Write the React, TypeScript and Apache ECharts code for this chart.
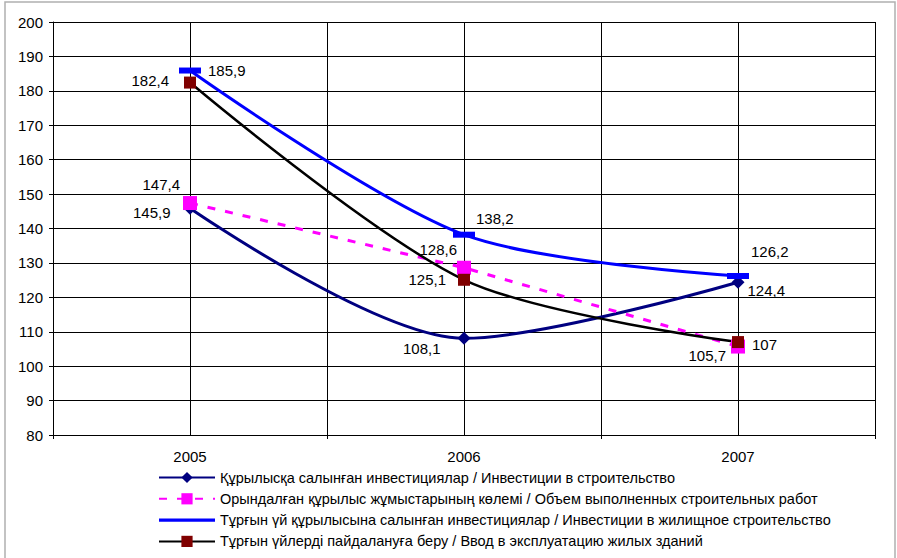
import React, { useEffect, useRef } from "react";
import * as echarts from "echarts";

const years = ["2005", "2006", "2007"];
const seriesNames = [
  "Құрылысқа салынған инвестициялар / Инвестиции в строительство",
  "Орындалған құрылыс жұмыстарының көлемі / Объем выполненных строительных работ",
  "Тұрғын үй құрылысына салынған инвестициялар / Инвестиции в жилищное строительство",
  "Тұрғын үйлерді пайдалануға беру / Ввод в эксплуатацию жилых зданий",
];
const investConstruction = [145.9, 108.1, 124.4];
const workVolume = [147.4, 128.6, 105.7];
const investHousing = [185.9, 138.2, 126.2];
const commissioning = [182.4, 125.1, 107];

const FONT = "'Liberation Sans', Arial, sans-serif";

type LP = { position: string; offset: number[] };
const withLabels = (vals: number[], lps: LP[]) =>
  vals.map((v, i) => ({
    value: v,
    label: {
      show: true,
      position: lps[i].position,
      offset: lps[i].offset,
      formatter: (p: any) => String(p.value).replace(".", ","),
      color: "#000",
      fontSize: 15,
      fontFamily: FONT,
    },
  }));

export default function App() {
  const ref = useRef<HTMLDivElement>(null);
  useEffect(() => {
    if (!ref.current) return;
    const chart = echarts.init(ref.current, undefined, { renderer: "svg" });
    chart.setOption({
      animation: false,
      backgroundColor: "#fff",
      textStyle: { fontFamily: FONT },
      graphic: [
        {
          type: "rect",
          shape: { x: 5, y: 2, width: 890, height: 570 },
          style: { fill: "none", stroke: "#b0b0b0", lineWidth: 1.5 },
          silent: true,
        },
      ],
      grid: { left: 53, right: 22, top: 22, bottom: 123, containLabel: false },
      legend: {
        orient: "vertical",
        left: 153,
        top: 465,
        itemWidth: 56,
        itemHeight: 14,
        itemGap: 6.3,
        textStyle: { fontSize: 14.5, color: "#000", fontFamily: FONT },
        data: [
          { name: seriesNames[0] },
          { name: seriesNames[1] },
          { name: seriesNames[2], icon: "path://M0,0 L56,0 L56,3.2 L0,3.2 Z" },
          { name: seriesNames[3] },
        ],
      },
      xAxis: [
        {
          type: "category",
          data: years,
          boundaryGap: true,
          axisLine: { lineStyle: { color: "#000", width: 1 } },
          axisTick: { show: true, length: 4, lineStyle: { color: "#000" } },
          axisLabel: { color: "#000", fontSize: 15, margin: 14, fontFamily: FONT },
          splitLine: { show: false },
        },
        {
          type: "value",
          min: 0,
          max: 6,
          interval: 1,
          position: "top",
          axisLine: { show: false },
          axisTick: { show: false },
          axisLabel: { show: false },
          splitLine: { show: true, lineStyle: { color: "#000", width: 1 } },
        },
      ],
      yAxis: {
        type: "value",
        min: 80,
        max: 200,
        interval: 10,
        axisLine: { show: true, lineStyle: { color: "#000", width: 1 } },
        axisTick: { show: true, length: 4, lineStyle: { color: "#000" } },
        axisLabel: { color: "#000", fontSize: 15, margin: 10, fontFamily: FONT },
        splitLine: { show: true, lineStyle: { color: "#000", width: 1 } },
      },
      series: [
        {
          name: seriesNames[0],
          type: "line",
          xAxisIndex: 0,
          smooth: 0.3,
          symbol: "diamond",
          symbolSize: 13,
          lineStyle: { color: "#000080", width: 3 },
          itemStyle: { color: "#000080" },
          data: withLabels(investConstruction, [
            { position: "left", offset: [-8, 4] },
            { position: "left", offset: [-12, 10] },
            { position: "right", offset: [-2, 8] },
          ]),
        },
        {
          name: seriesNames[1],
          type: "line",
          xAxisIndex: 0,
          smooth: false,
          symbol: "rect",
          symbolSize: 14,
          lineStyle: { color: "#ff00ff", width: 3, type: [8, 10] },
          itemStyle: { color: "#ff00ff" },
          data: withLabels(workVolume, [
            { position: "left", offset: [2, -19] },
            { position: "left", offset: [5, -18] },
            { position: "left", offset: [0, 9] },
          ]),
        },
        {
          name: seriesNames[2],
          type: "line",
          xAxisIndex: 0,
          smooth: 0.3,
          symbol: "rect",
          symbolSize: [22, 6],
          lineStyle: { color: "#0000ff", width: 3 },
          itemStyle: { color: "#0000ff" },
          data: withLabels(investHousing, [
            { position: "right", offset: [2, 0] },
            { position: "right", offset: [-4, -16] },
            { position: "right", offset: [-3, -24] },
          ]),
        },
        {
          name: seriesNames[3],
          type: "line",
          xAxisIndex: 0,
          smooth: 0.3,
          symbol: "rect",
          symbolSize: 12,
          lineStyle: { color: "#000000", width: 2.5 },
          itemStyle: { color: "#800000" },
          data: withLabels(commissioning, [
            { position: "left", offset: [-10, -2] },
            { position: "left", offset: [-7, 0] },
            { position: "right", offset: [3, 2] },
          ]),
        },
      ],
    });
    return () => chart.dispose();
  }, []);
  return (
    <div
      ref={ref}
      style={{ position: "fixed", left: 0, top: 0, width: 897, height: 558 }}
    />
  );
}
